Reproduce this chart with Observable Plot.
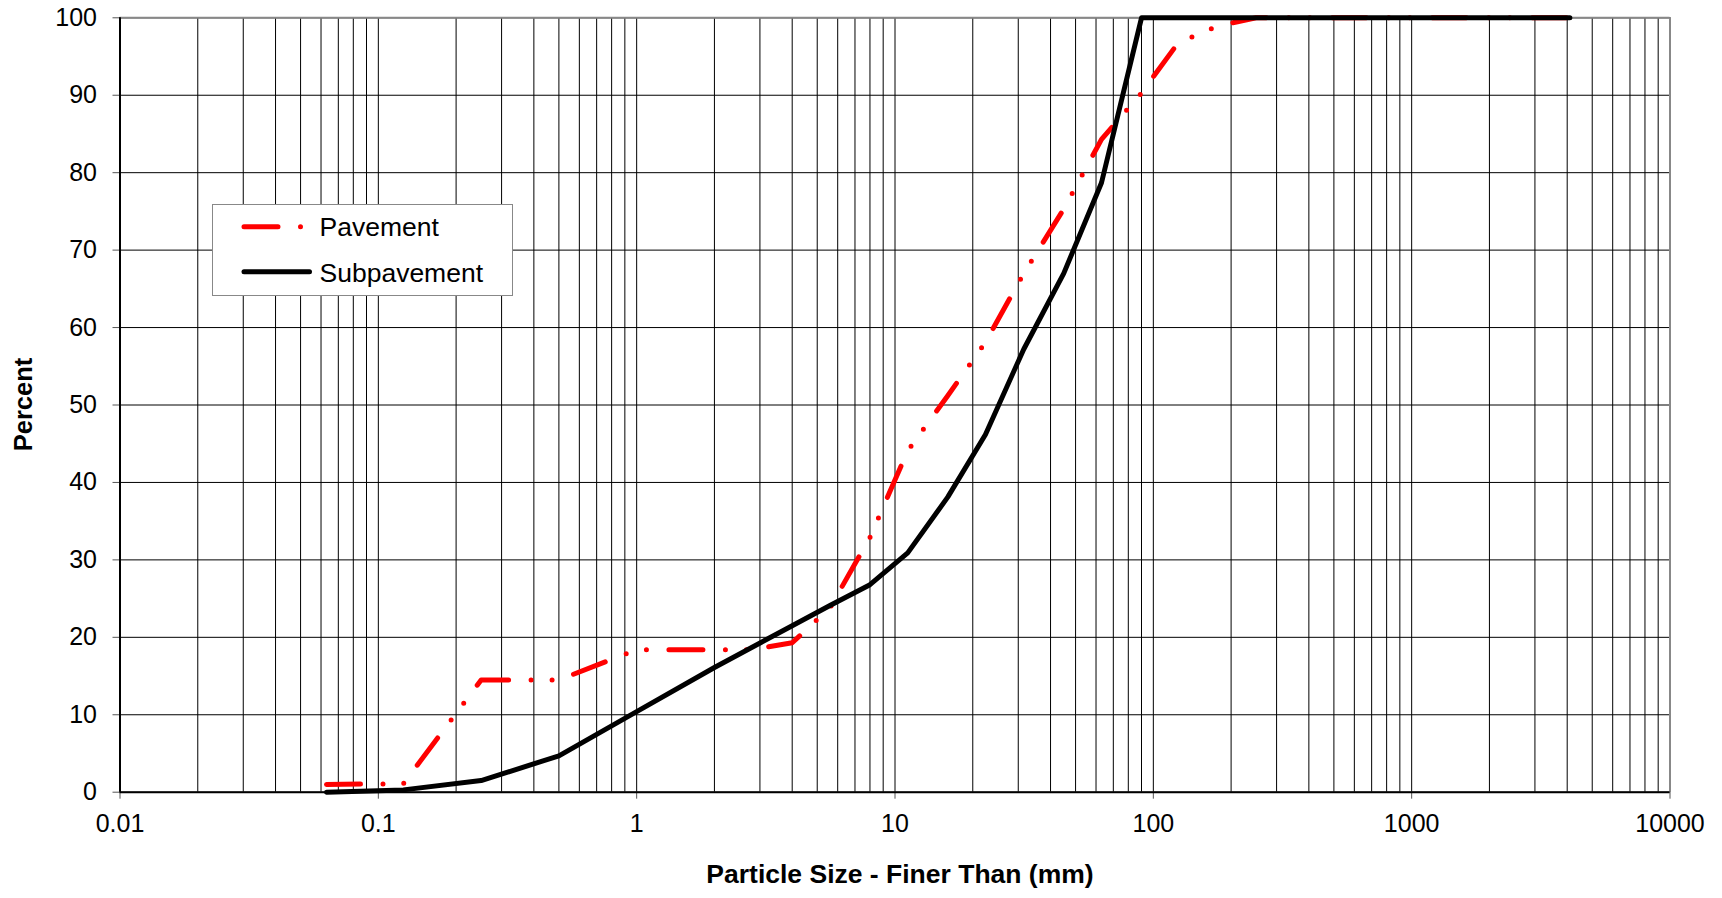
<!DOCTYPE html>
<html>
<head>
<meta charset="utf-8">
<script src="https://cdn.jsdelivr.net/npm/d3@7"></script>
<script src="https://cdn.jsdelivr.net/npm/@observablehq/plot@0.6"></script>
<style>
  html, body { margin: 0; padding: 0; background: #fff; }
  #chart { position: relative; width: 1722px; height: 898px; }
</style>
</head>
<body>
<div id="chart"></div>
<script>
// ---- data ----
const pavementSize = [0.063, 0.125, 0.25, 0.5, 1, 2, 2.8, 4, 5.6, 8, 11.2, 16, 22.4, 31.5, 45, 63, 90, 125, 180, 250, 4096];
const pavementPct  = [1.0, 1.1, 14.5, 14.5, 18.4, 18.4, 18.4, 19.3, 23.8, 32.9, 44.1, 51.2, 58.1, 67.0, 75.3, 84.3, 90.3, 96.8, 99.0, 100, 100];
const subSize = [0.063, 0.125, 0.25, 0.5, 1, 2, 4, 5.6, 8, 11.2, 16, 22.4, 31.5, 45, 63, 90, 125, 180, 250, 4096];
const subPct  = [0, 0.3, 1.5, 4.7, 10.4, 16.1, 21.5, 24.1, 26.8, 30.9, 38.1, 46.2, 57.2, 67.0, 78.7, 100, 100, 100, 100, 100];

const xTicks = [0.01, 0.1, 1, 10, 100, 1000, 10000];
const xTickLabels = ["0.01", "0.1", "1", "10", "100", "1000", "10000"];
const yTicks = [0, 10, 20, 30, 40, 50, 60, 70, 80, 90, 100];
const seriesNames = ["Pavement", "Subpavement"];
const xTitle = "Particle Size - Finer Than (mm)";
const yTitle = "Percent";

// minor log grid values built from the decade ticks
const xGrid = [];
xTicks.slice(0, -1).forEach(d => { for (let m = 1; m <= 9; m++) xGrid.push(+(m * d).toPrecision(6)); });
xGrid.push(xTicks[xTicks.length - 1]);

const pavement = pavementSize.map((s, i) => ({size: s, pct: pavementPct[i]}));
const sub = subSize.map((s, i) => ({size: s, pct: subPct[i]}));

const FONT = "'Liberation Sans', Arial, Helvetica, sans-serif";
const LW = 5;
const redDash = "34,22.5,0,21,0,22.5";

const W = 1722, H = 898;
const mL = 119.5, mR = 52.5, mT = 17.3, mB = 106.3;

const svg = Plot.plot({
  width: W,
  height: H,
  marginLeft: mL,
  marginRight: mR,
  marginTop: mT,
  marginBottom: mB,
  style: {fontFamily: FONT, fontSize: "25px", color: "#000", background: "#fff", overflow: "visible"},
  x: {type: "log", domain: [0.01, 10000]},
  y: {domain: [0, 100]},
  marks: [
    Plot.ruleX(xGrid, {stroke: "#000", strokeWidth: 1}),
    Plot.ruleY(yTicks, {stroke: "#000", strokeWidth: 1}),
    Plot.ruleY([100], {stroke: "#888", strokeWidth: 2}),
    Plot.ruleX([10000], {stroke: "#888", strokeWidth: 2}),
    Plot.axisX({ticks: xTicks, tickFormat: (d) => xTickLabels[xTicks.indexOf(d)], tickSize: 7, tickPadding: 15, label: null, stroke: "#555", fontSize: 25}),
    Plot.axisY({ticks: yTicks, tickSize: 7, tickPadding: 16, label: null, stroke: "#555", fontSize: 25}),
    Plot.ruleY([0], {stroke: "#000", strokeWidth: 2}),
    Plot.ruleX([0.01], {stroke: "#000", strokeWidth: 2}),
    Plot.line(pavement, {x: "size", y: "pct", stroke: "#ff0000", strokeWidth: LW, strokeDasharray: redDash, strokeLinecap: "round", strokeLinejoin: "round"}),
    Plot.line(sub, {x: "size", y: "pct", stroke: "#000", strokeWidth: LW, strokeLinecap: "round", strokeLinejoin: "round"})
  ]
});

document.getElementById("chart").appendChild(svg);

const s = d3.select(svg);

// axis titles
s.append("text")
  .attr("x", 900).attr("y", 874).attr("dy", "0.35em")
  .attr("text-anchor", "middle")
  .style("font-family", FONT).style("font-size", "26.5px").style("font-weight", "bold")
  .attr("fill", "#000")
  .text(xTitle);

s.append("text")
  .attr("transform", "translate(22.7,404.5) rotate(-90)")
  .attr("dy", "0.35em")
  .attr("text-anchor", "middle")
  .style("font-family", FONT).style("font-size", "25.5px").style("font-weight", "bold")
  .attr("fill", "#000")
  .text(yTitle);

// legend
const lg = s.append("g").attr("text-anchor", "start");
lg.append("rect")
  .attr("x", 212.5).attr("y", 204.5).attr("width", 300).attr("height", 91)
  .attr("fill", "#fff").attr("stroke", "#888").attr("stroke-width", 1);
lg.append("line")
  .attr("x1", 244).attr("x2", 303).attr("y1", 226.7).attr("y2", 226.7)
  .attr("stroke", "#ff0000").attr("stroke-width", LW)
  .attr("stroke-linecap", "round").attr("stroke-dasharray", redDash);
lg.append("line")
  .attr("x1", 244).attr("x2", 309.5).attr("y1", 271.7).attr("y2", 271.7)
  .attr("stroke", "#000").attr("stroke-width", LW).attr("stroke-linecap", "round");
lg.append("text")
  .attr("x", 319.5).attr("y", 235.7).attr("text-anchor", "start")
  .style("font-family", FONT).style("font-size", "26.5px").attr("fill", "#000")
  .text(seriesNames[0]);
lg.append("text")
  .attr("x", 319.5).attr("y", 282.3).attr("text-anchor", "start")
  .style("font-family", FONT).style("font-size", "26.5px").attr("fill", "#000")
  .text(seriesNames[1]);
</script>
</body>
</html>
